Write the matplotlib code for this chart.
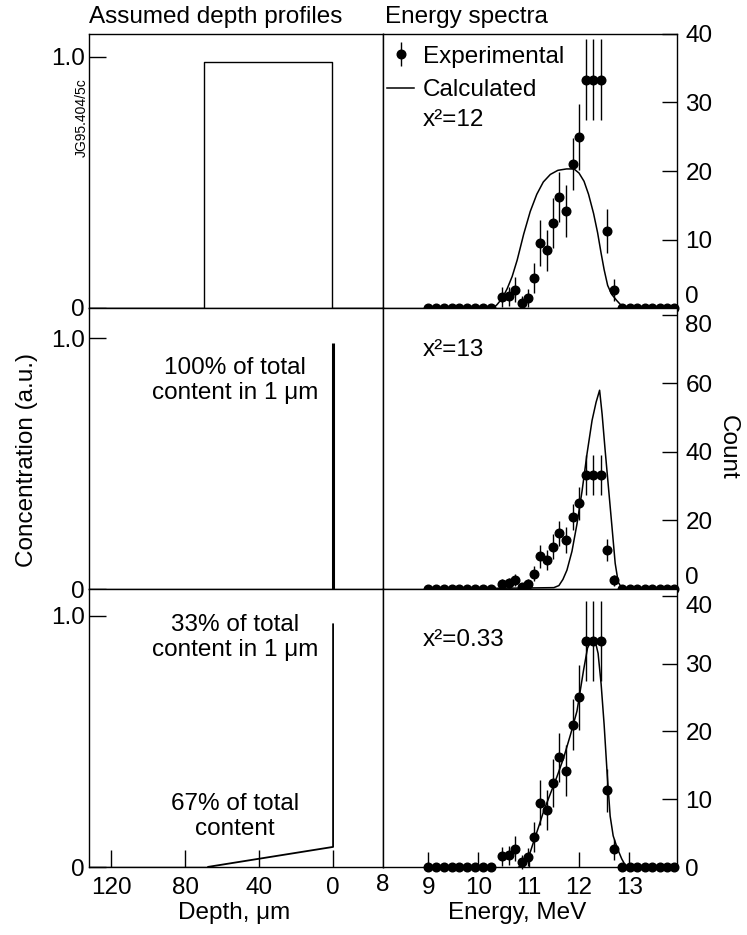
import matplotlib
matplotlib.use('Agg')
import matplotlib.pyplot as plt
from matplotlib.lines import Line2D

plt.rcParams['font.family'] = ['Liberation Sans', 'DejaVu Sans']
plt.rcParams['font.size'] = 17

# ---------------- data ----------------
# experimental spectrum (same for all three rows)
energy = [9.00, 9.16, 9.31, 9.47, 9.62, 9.78, 9.94, 10.09, 10.25,
          10.47, 10.60, 10.73, 10.86, 10.98, 11.11, 11.23, 11.36, 11.48,
          11.61, 11.75, 11.88, 12.00, 12.13, 12.28, 12.43, 12.55, 12.70,
          12.86, 13.01, 13.16, 13.31, 13.46, 13.61, 13.76, 13.90]
counts = [0, 0, 0, 0, 0, 0, 0, 0, 0,
          1.6, 1.7, 2.7, 0.7, 1.5, 4.4, 9.5, 8.4, 12.4,
          16.2, 14.2, 21.0, 25.0, 33.3, 33.3, 33.3, 11.3, 2.6,
          0, 0, 0, 0, 0, 0, 0, 0]
count_err = [0, 0, 0, 0, 0, 0, 0, 0, 0,
             1.4, 1.4, 1.8, 1.0, 1.3, 2.2, 3.3, 3.0, 3.6,
             3.6, 3.8, 3.8, 4.8, 5.9, 5.9, 5.9, 3.2, 1.6,
             0, 0, 0, 0, 0, 0, 0, 0]

# calculated spectra
calc1_e = [10.30, 10.37, 10.47, 10.57, 10.67, 10.77, 10.90, 11.03, 11.16, 11.29,
           11.43, 11.58, 11.75, 11.90, 12.00, 12.10, 12.19, 12.29, 12.37, 12.44,
           12.50, 12.57, 12.65, 12.75, 12.85, 12.95]
calc1_c = [0.0, 0.5, 1.4, 2.8, 4.6, 7.0, 10.8, 14.1, 16.6, 18.4,
           19.5, 20.1, 20.3, 20.3, 19.7, 18.5, 16.6, 13.8, 11.0, 8.0,
           5.6, 3.3, 2.0, 1.1, 0.3, 0.0]

calc2_e = [10.30, 11.00, 11.50, 11.60, 11.68, 11.76, 11.86, 11.96, 12.06, 12.16,
           12.26, 12.34, 12.41, 12.46, 12.52, 12.59, 12.66, 12.72, 12.78, 12.85, 12.95]
calc2_c = [0.2, 0.3, 0.4, 1.0, 2.8, 5.5, 11.0, 19.0, 28.5, 39.5,
           49.2, 54.5, 58.0, 51.0, 40.5, 29.0, 17.5, 7.5, 2.0, 0.3, 0.0]

calc3_e = [10.80, 10.90, 11.00, 11.10, 11.20, 11.30, 11.43, 11.56, 11.69, 11.83,
           11.96, 12.09, 12.17, 12.25, 12.32, 12.38, 12.44, 12.50, 12.56, 12.62,
           12.68, 12.76, 12.85, 12.94]
calc3_c = [0.0, 0.4, 1.5, 3.8, 6.0, 8.3, 10.8, 13.3, 16.0, 19.5,
           23.0, 29.0, 32.3, 33.5, 33.4, 31.5, 27.0, 21.0, 13.8, 7.5,
           4.6, 2.8, 1.2, 0.0]

# assumed depth profiles
prof1_depth = [132, 70, 70, 0.5, 0.5, -27]
prof1_conc = [0, 0, 0.98, 0.98, 0, 0]
prof2_depth = [0, 0]
prof2_conc = [0, 0.98]
prof3_depth = [68, 0, 0]
prof3_conc = [0, 0.08, 0.97]

chi_labels = ['x²=12', 'x²=13', 'x²=0.33']
right_ylims = [40, 82, 41]
right_yticks = [[0, 10, 20, 30, 40], [0, 20, 40, 60, 80], [0, 10, 20, 30, 40]]
left_ylims = [1.09, 1.12, 1.107]
depth_ticks = [120, 80, 40, 0]
energy_ticks = [9, 10, 11, 12, 13]

# ---------------- figure ----------------
W, H = 747, 935
fig = plt.figure(figsize=(W / 100, H / 100), dpi=100)


def px_axes(x0, y0, x1, y1):
    return fig.add_axes([x0 / W, 1 - y1 / H, (x1 - x0) / W, (y1 - y0) / H])


rows = [(34, 308), (308, 589), (589, 867)]
calcs = [(calc1_e, calc1_c), (calc2_e, calc2_c), (calc3_e, calc3_c)]
profiles = [(prof1_depth, prof1_conc, 1.0), (prof2_depth, prof2_conc, 2.2),
            (prof3_depth, prof3_conc, 1.3)]

FS = 17.5
first_eb = None
first_ln = None
for i, (ytop, ybot) in enumerate(rows):
    axl = px_axes(89, ytop, 383, ybot)
    axr = px_axes(383, ytop, 677, ybot)
    for ax in (axl, axr):
        for s in ax.spines.values():
            s.set_linewidth(1.0)

    # ---- left: depth profile ----
    d, c, lw = profiles[i]
    axl.plot(d, c, color='k', lw=lw, solid_capstyle='butt')
    if i == 2:
        axl.plot([132, 68], [0, 0], color='k', lw=1.0)
    axl.set_xlim(132, -27)
    axl.set_ylim(0, left_ylims[i])
    axl.set_yticks([0, 1.0])
    axl.set_yticklabels(['0', '1.0'])
    axl.tick_params(axis='y', direction='in', length=12, width=1, pad=3, labelsize=FS)
    if i == 2:
        axl.set_xticks(depth_ticks)
        axl.set_xticklabels([str(t) for t in depth_ticks])
        axl.tick_params(axis='x', direction='in', length=12, width=1, pad=7, labelsize=FS)
        axl.set_xlabel('Depth, μm', fontsize=FS)
        axl.xaxis.set_label_coords((234 - 89) / 294, -(913 - 867) / (ybot - ytop), transform=axl.transAxes)
        axl.xaxis.label.set_va('center')
    else:
        axl.set_xticks([])

    # ---- right: energy spectrum ----
    eb = axr.errorbar(energy, counts, yerr=count_err, fmt='o', color='k', ms=6.2,
                      elinewidth=1.0, capsize=0, clip_on=False, zorder=3)
    ce, cc = calcs[i]
    ln, = axr.plot(ce, cc, color='k', lw=1.1, zorder=2)
    if i == 0:
        first_eb, first_ln = eb, ln
    axr.set_xlim(8.1, 13.95)
    axr.set_ylim(0, right_ylims[i])
    axr.yaxis.tick_right()
    axr.set_yticks(right_yticks[i])
    axr.tick_params(axis='y', direction='in', length=11, width=1, pad=6, labelsize=FS)
    ylabels = axr.get_yticklabels()
    if i < 2:
        ylabels[0].set_va('bottom')
    if i > 0:
        ylabels[-1].set_va('top')
    if i == 2:
        axr.set_xticks(energy_ticks)
        axr.set_xticklabels([str(t) for t in energy_ticks])
        axr.tick_params(axis='x', direction='in', length=11, width=1, pad=7, labelsize=FS)
        axr.set_xlabel('Energy, MeV', fontsize=FS)
        axr.xaxis.set_label_coords((517 - 383) / 294, -(913 - 867) / (ybot - ytop), transform=axr.transAxes)
        axr.xaxis.label.set_va('center')
    else:
        axr.set_xticks([])

    chi_y = [(308 - 120) / 274, (589 - 350) / 281, (867 - 640) / 278][i]
    axr.text((423 - 383) / 294, chi_y, chi_labels[i], transform=axr.transAxes,
             ha='left', va='center', fontsize=FS)

    if i == 0:
        axr.legend([first_eb, first_ln], ['Experimental', 'Calculated'],
                   loc='upper left', bbox_to_anchor=(0.012, 0.958), frameon=False,
                   borderpad=0, borderaxespad=0, handlelength=1.15,
                   handletextpad=0.35, labelspacing=0.48, fontsize=FS)
    if i == 1:
        axl.text(53, 0.83, '100% of total\ncontent in 1 μm', ha='center', va='center',
                 fontsize=FS, linespacing=1.15)
    if i == 2:
        axl.text(53, 0.914, '33% of total\ncontent in 1 μm', ha='center', va='center',
                 fontsize=FS, linespacing=1.15)
        axl.text(53, 0.201, '67% of total\ncontent', ha='center', va='center',
                 fontsize=FS, linespacing=1.15)

# energy axis label "8" at the left edge of the spectrum axes
fig.text(383 / W, 1 - 885 / H, '8', ha='center', va='center', fontsize=FS)

fig.text(89 / W, 1 - 17 / H, 'Assumed depth profiles', ha='left', va='center', fontsize=FS)
fig.text(385 / W, 1 - 17 / H, 'Energy spectra', ha='left', va='center', fontsize=FS)
fig.text(27 / W, 1 - 460 / H, 'Concentration (a.u.)', rotation=90, ha='center', va='center', fontsize=FS)
fig.text(728 / W, 1 - 447 / H, 'Count', rotation=270, ha='center', va='center', fontsize=FS)
fig.text(82 / W, 1 - 118 / H, 'JG95.404/5c', rotation=90, ha='center', va='center', fontsize=10)

fig.savefig('out.png', dpi=100)
